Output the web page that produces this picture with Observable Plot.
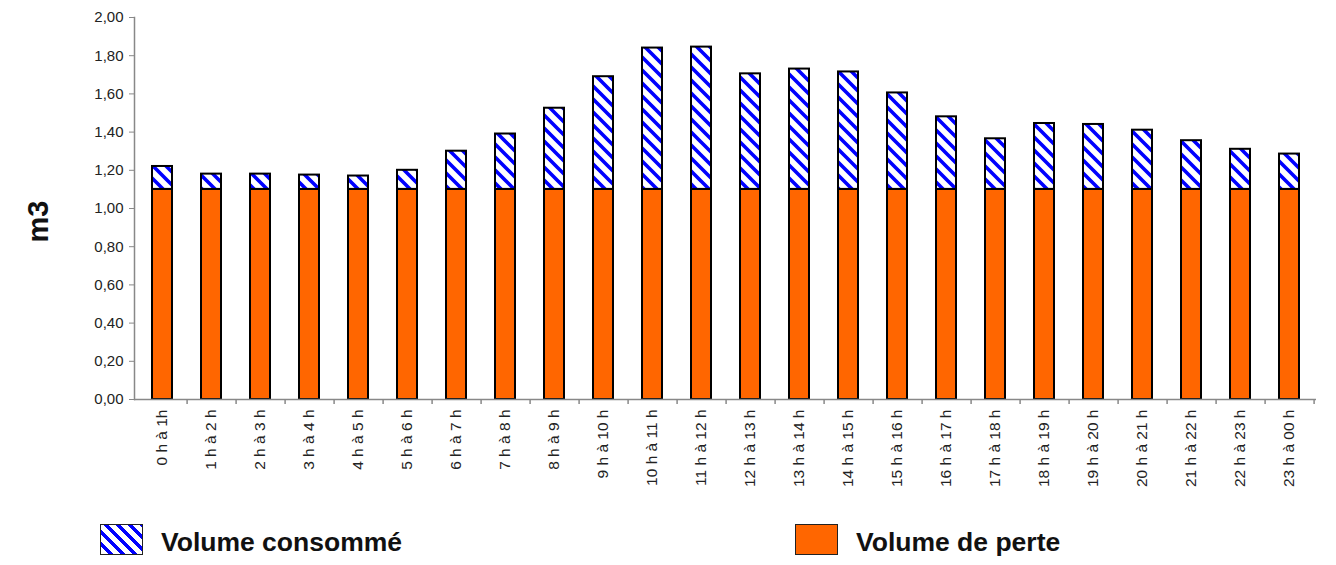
<!DOCTYPE html>
<html>
<head>
<meta charset="utf-8">
<script src="https://cdn.jsdelivr.net/npm/d3@7"></script>
<script src="https://cdn.jsdelivr.net/npm/@observablehq/plot@0.6"></script>
<style>
  html, body { margin: 0; padding: 0; background: #fff; }
  body { width: 1336px; height: 565px; overflow: hidden; font-family: "Liberation Sans", Arial, sans-serif; }
  #wrap { position: relative; width: 1336px; height: 565px; }
  #chart svg { display: block; }
  #chart [aria-label="y-axis tick"] { stroke: #888; }
  #chart [aria-label="x-axis tick label"], #chart [aria-label="x-axis tick label"] text { font-size: 15.5px !important; }
  #chart [aria-label="y-axis tick label"], #chart [aria-label="y-axis tick label"] text { font-size: 15px !important; }
  .legend { position: absolute; top: 524px; display: flex; align-items: center; }
  .sw { width: 43px; height: 31px; border: 1.5px solid #222; box-sizing: border-box; flex: none; }
  .lt { font-weight: bold; font-size: 26.5px; color: #111; margin-left: 18px; line-height: 31px; position: relative; top: 3px; }
</style>
</head>
<body>
<div id="wrap">
  <div id="chart"></div>
  <div id="legend"></div>
</div>
<script>
const hours = ["0 h à 1h","1 h à 2 h","2 h à 3 h","3 h à 4 h","4 h à 5 h","5 h à 6 h","6 h à 7 h","7 h à 8 h","8 h à 9 h","9 h à 10 h","10 h à 11 h","11 h à 12 h","12 h à 13 h","13 h à 14 h","14 h à 15 h","15 h à 16 h","16 h à 17 h","17 h à 18 h","18 h à 19 h","19 h à 20 h","20 h à 21 h","21 h à 22 h","22 h à 23 h","23 h à 00 h"];
const volumePerte = [1.10,1.10,1.10,1.10,1.10,1.10,1.10,1.10,1.10,1.10,1.10,1.10,1.10,1.10,1.10,1.10,1.10,1.10,1.10,1.10,1.10,1.10,1.10,1.10];
const volumeConsomme = [0.12,0.08,0.08,0.075,0.07,0.10,0.20,0.29,0.425,0.59,0.74,0.745,0.605,0.63,0.615,0.505,0.38,0.265,0.345,0.34,0.31,0.255,0.21,0.185];
const yTicks = [0,0.2,0.4,0.6,0.8,1.0,1.2,1.4,1.6,1.8,2.0];
const seriesNames = ["Volume consommé", "Volume de perte"];

const totals = volumePerte.map((v, i) => v + volumeConsomme[i]);
const fmt = d => d.toFixed(2).replace(".", ",");

const chart = Plot.plot({
  width: 1336,
  height: 500,
  marginLeft: 134,
  marginRight: 20,
  marginTop: 17,
  marginBottom: 101,
  style: { fontFamily: "'Liberation Sans', Arial, sans-serif", color: "#222", background: "#fff" },
  x: { type: "band", domain: hours, paddingInner: 0.594, paddingOuter: 0.297, label: null },
  y: { domain: [0, 2], label: null },
  marks: [
    Plot.barY(hours, { x: hours, y1: 0, y2: volumePerte, fill: "#FF6600", stroke: "#000", strokeWidth: 2 }),
    Plot.barY(hours, { x: hours, y1: volumePerte, y2: totals, fill: "url(#stripesConso)", stroke: "#000", strokeWidth: 2 }),
    Plot.ruleY([0], { stroke: "#888", strokeWidth: 1.5 }),
    Plot.ruleX(hours, { x: hours, dx: 24.6, y1: 0, y2: 0, insetBottom: -5, stroke: "#888", strokeWidth: 1.5 }),
    Plot.frame({ anchor: "left", stroke: "#888", strokeWidth: 1.5 }),
    Plot.axisY({ ticks: yTicks, tickFormat: fmt, tickSize: 5, tickPadding: 6, fontSize: 15, label: null }),
    Plot.axisX({ tickSize: 0, tickPadding: 10, tickRotate: -90, fontSize: 15.5, label: null }),
    Plot.text(["m3"], { frameAnchor: "left", dx: -96, dy: 34, rotate: -90, fontSize: 29, fontWeight: "bold", fill: "#111" })
  ]
});

// pattern definition for the hatched series
const svgSel = d3.select(chart);
const defs = svgSel.insert("defs", ":first-child");
const pat = defs.append("pattern")
  .attr("id", "stripesConso")
  .attr("patternUnits", "userSpaceOnUse")
  .attr("width", 13).attr("height", 13);
pat.append("rect").attr("width", 13).attr("height", 13).attr("fill", "#fff");
pat.append("path")
  .attr("d", "M-3,-3 L16,16 M-3,10 L3,16 M10,-3 L16,3")
  .attr("stroke", "#0000FF").attr("stroke-width", 3.6);

// enforce tick label font sizes
svgSel.selectAll('[aria-label="x-axis tick label"]').attr("font-size", 15.5);
svgSel.selectAll('[aria-label="y-axis tick label"]').attr("font-size", 15);

document.getElementById("chart").appendChild(chart);

// legend
const legend = document.getElementById("legend");
const legendItems = [
  { name: seriesNames[0], left: 100 },
  { name: seriesNames[1], left: 795 }
];
legendItems.forEach((it, i) => {
  const d = document.createElement("div");
  d.className = "legend";
  d.style.left = it.left + "px";
  const sw = document.createElement("div");
  sw.className = "sw";
  sw.style.background = i === 0
    ? "repeating-linear-gradient(45deg, #fff 0px, #fff 5.5px, #0000FF 5.5px, #0000FF 8.5px)"
    : "#FF6600";
  const t = document.createElement("span");
  t.className = "lt";
  t.textContent = it.name;
  d.appendChild(sw);
  d.appendChild(t);
  legend.appendChild(d);
});
</script>
</body>
</html>
